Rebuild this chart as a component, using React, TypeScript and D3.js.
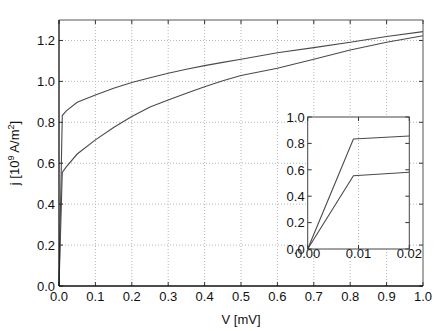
import React from "react";
import * as d3 from "d3";

const voltages = [0, 0.009, 0.02, 0.05, 0.1, 0.15, 0.2, 0.25, 0.3, 0.35, 0.4, 0.45, 0.5, 0.6, 0.7, 0.8, 0.9, 1.0];
const upperCurrent = [0, 0.833, 0.856, 0.898, 0.933, 0.966, 0.995, 1.018, 1.04, 1.059, 1.077, 1.093, 1.108, 1.14, 1.165, 1.191, 1.219, 1.243];
const lowerCurrent = [0, 0.555, 0.582, 0.645, 0.714, 0.775, 0.828, 0.875, 0.909, 0.942, 0.974, 1.003, 1.029, 1.064, 1.108, 1.153, 1.191, 1.223];

const mainXTicks = [0, 0.1, 0.2, 0.3, 0.4, 0.5, 0.6, 0.7, 0.8, 0.9, 1.0];
const mainYTicks = [0, 0.2, 0.4, 0.6, 0.8, 1.0, 1.2];
const insetXTicks = [0, 0.01, 0.02];
const insetYTicks = [0, 0.2, 0.4, 0.6, 0.8, 1.0];

const FONT = "'Liberation Sans', Arial, sans-serif";

export default function App() {
  const W = 436, H = 331;
  const x = d3.scaleLinear().domain([0, 1]).range([59, 423]);
  const y = d3.scaleLinear().domain([0, 1.3]).range([286, 20]);
  const ix = d3.scaleLinear().domain([0, 0.02]).range([307.7, 409.3]);
  const iy = d3.scaleLinear().domain([0, 1]).range([249, 117]);

  const pts = (vals: number[]) => voltages.map((v, i) => [v, vals[i]] as [number, number]);
  const mainLine = d3.line<[number, number]>().x(d => x(d[0])).y(d => y(d[1]));
  const insetLine = d3.line<[number, number]>().x(d => ix(d[0])).y(d => iy(d[1]));
  const insetPts = (vals: number[]) => pts(vals).filter(d => d[0] <= 0.02);

  const gridStyle = { stroke: "#b8b8b8", strokeWidth: 1, strokeDasharray: "1,2" };
  const curveStyle = { fill: "none", stroke: "#4a4a4a", strokeWidth: 1.1 };
  const tickLen = 4;

  return (
    <div style={{ position: "fixed", left: 0, top: 0 }}>
      <svg width={W} height={H} style={{ display: "block", background: "#fff" }}>
        <rect x={0} y={0} width={W} height={H} fill="#fff" />
        {/* main grid */}
        {mainXTicks.slice(1, -1).map(t => (
          <line key={"gx" + t} x1={x(t)} x2={x(t)} y1={y(0)} y2={y(1.3)} {...gridStyle} />
        ))}
        {mainYTicks.slice(1).map(t => (
          <line key={"gy" + t} x1={x(0)} x2={x(1)} y1={y(t)} y2={y(t)} {...gridStyle} />
        ))}
        {/* main curves */}
        <path d={mainLine(pts(upperCurrent)) || ""} style={curveStyle} />
        <path d={mainLine(pts(lowerCurrent)) || ""} style={curveStyle} />
        {/* main ticks */}
        {mainXTicks.map(t => (
          <g key={"tx" + t}>
            <line x1={x(t)} x2={x(t)} y1={y(0)} y2={y(0) - tickLen} stroke="#333" />
            <line x1={x(t)} x2={x(t)} y1={y(1.3)} y2={y(1.3) + tickLen} stroke="#333" />
            <text x={x(t)} y={y(0) + 14.7} textAnchor="middle" fontSize={13} fontFamily={FONT} fill="#111">
              {t.toFixed(1)}
            </text>
          </g>
        ))}
        {mainYTicks.map(t => (
          <g key={"ty" + t}>
            <line x1={x(0)} x2={x(0) + tickLen} y1={y(t)} y2={y(t)} stroke="#333" />
            <line x1={x(1)} x2={x(1) - tickLen} y1={y(t)} y2={y(t)} stroke="#333" />
            <text x={x(0) - 4} y={y(t) + 4.5} textAnchor="end" fontSize={13} fontFamily={FONT} fill="#111">
              {t.toFixed(1)}
            </text>
          </g>
        ))}
        {/* main frame */}
        <line x1={x(0)} x2={x(1)} y1={y(1.3)} y2={y(1.3)} stroke="#555" strokeWidth={1} />
        <line x1={x(1)} x2={x(1)} y1={y(0)} y2={y(1.3)} stroke="#555" strokeWidth={1} />
        <line x1={x(0)} x2={x(0)} y1={y(0)} y2={y(1.3)} stroke="#111" strokeWidth={1.3} />
        <line x1={x(0)} x2={x(1)} y1={y(0)} y2={y(0)} stroke="#111" strokeWidth={1.3} />
        {/* axis labels */}
        <text x={(x(0) + x(1)) / 2} y={323.5} textAnchor="middle" fontSize={13} fontFamily={FONT} fill="#111">
          V [mV]
        </text>
        <text
          transform={`translate(19, ${(y(0) + y(1.3)) / 2}) rotate(-90)`}
          textAnchor="middle"
          fontSize={13}
          fontFamily={FONT}
          fill="#111"
        >
          j [10<tspan fontSize={9} dy={-5}>9</tspan>
          <tspan dy={5}> A/m</tspan>
          <tspan fontSize={9} dy={-5}>2</tspan>
          <tspan dy={5}>]</tspan>
        </text>

        {/* inset */}
        <rect x={ix(0)} y={iy(1)} width={ix(0.02) - ix(0)} height={iy(0) - iy(1)} fill="#fff" />
        {insetXTicks.slice(1, -1).map(t => (
          <line key={"igx" + t} x1={ix(t)} x2={ix(t)} y1={iy(0)} y2={iy(1)} {...gridStyle} />
        ))}
        <path d={insetLine(insetPts(upperCurrent)) || ""} style={curveStyle} />
        <path d={insetLine(insetPts(lowerCurrent)) || ""} style={curveStyle} />
        {insetXTicks.map(t => (
          <g key={"itx" + t}>
            <line x1={ix(t)} x2={ix(t)} y1={iy(0)} y2={iy(0) - tickLen} stroke="#333" />
            <line x1={ix(t)} x2={ix(t)} y1={iy(1)} y2={iy(1) + tickLen} stroke="#333" />
            <text x={ix(t)} y={iy(0) + 8.5} textAnchor="middle" fontSize={13} fontFamily={FONT} fill="#111">
              {t.toFixed(2)}
            </text>
          </g>
        ))}
        {insetYTicks.map(t => (
          <g key={"ity" + t}>
            <line x1={ix(0)} x2={ix(0) + tickLen} y1={iy(t)} y2={iy(t)} stroke="#333" />
            <line x1={ix(0.02)} x2={ix(0.02) - tickLen} y1={iy(t)} y2={iy(t)} stroke="#333" />
            <text x={ix(0) - 3} y={iy(t) + 4.8} textAnchor="end" fontSize={13} fontFamily={FONT} fill="#111">
              {t.toFixed(1)}
            </text>
          </g>
        ))}
        <rect x={ix(0)} y={iy(1)} width={ix(0.02) - ix(0)} height={iy(0) - iy(1)} fill="none" stroke="#444" strokeWidth={1} />
      </svg>
    </div>
  );
}
